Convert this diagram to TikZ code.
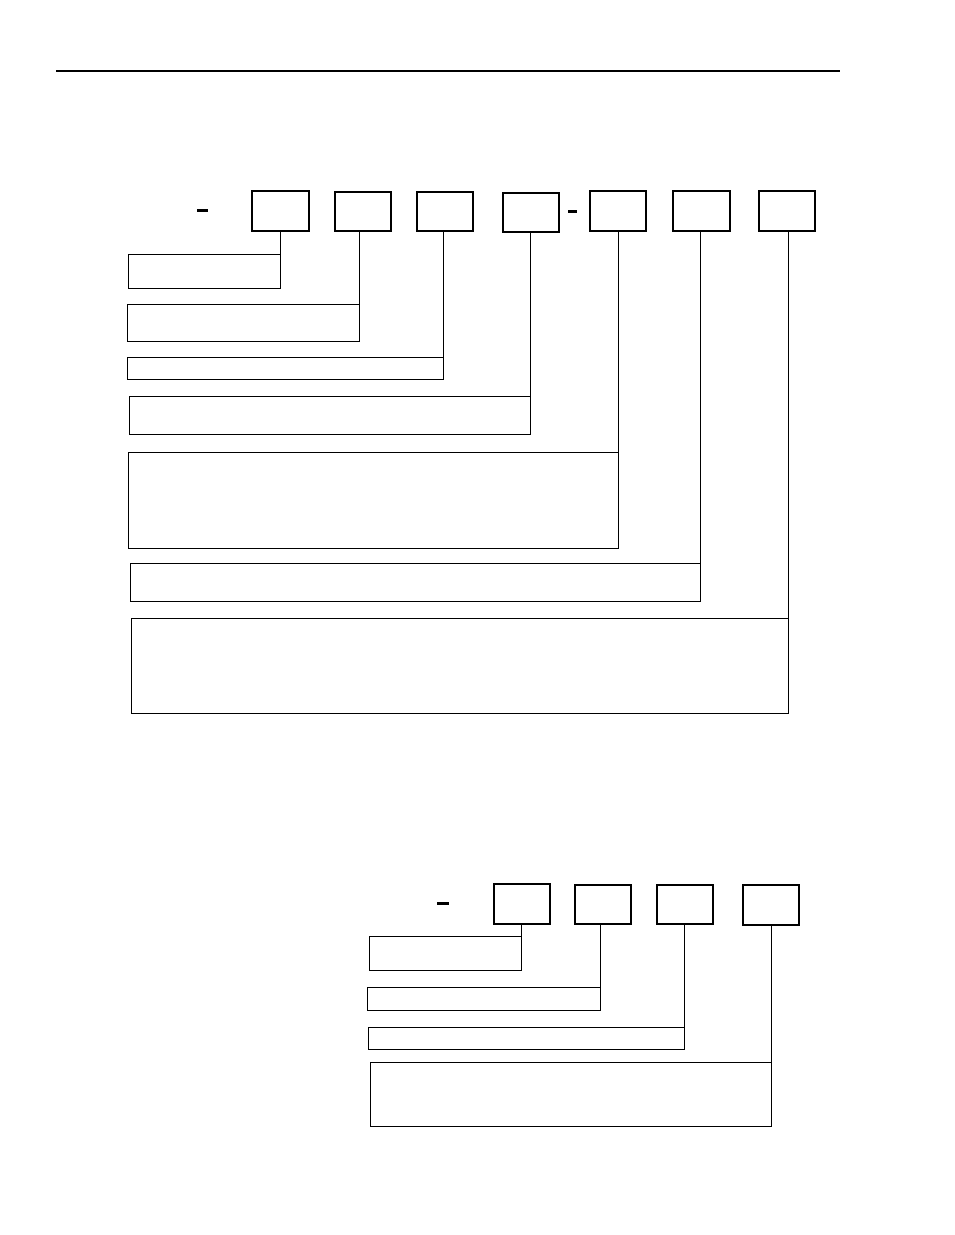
\documentclass[tikz,border=0pt]{standalone}
\usetikzlibrary{fit}
\tikzset{
  codebox/.style={draw=black, line width=1pt, inner sep=0pt, fill=none},
  labelbox/.style={draw=black, line width=0.6pt, inner sep=0pt},
  conn/.style={draw=black, line width=0.6pt},
  dashbar/.style={fill=black, draw=none, inner sep=0pt},
}
\begin{document}
\begin{tikzpicture}[x=0.75pt,y=-0.75pt]
\useasboundingbox (0,0) rectangle (954,1235);
% header rule
\draw[line width=0.8pt] (56,71) -- (840,71);

% ---------- top code ----------
\node[dashbar, fit={(197,209) (208,212)}] (d1) {};
\node[codebox, fit={(252,191) (309,231)}] (b1) {};
\node[codebox, fit={(335,192) (391,231)}] (b2) {};
\node[codebox, fit={(417,192) (473,231)}] (b3) {};
\node[codebox, fit={(503,193) (559,232)}] (b4) {};
\node[dashbar, fit={(568,210) (577,213)}] (d2) {};
\node[codebox, fit={(590,191) (646,231)}] (b5) {};
\node[codebox, fit={(673,191) (730,231)}] (b6) {};
\node[codebox, fit={(759,191) (815,231)}] (b7) {};

\node[labelbox, fit={(128,254) (280,288)}] (l1) {};
\node[labelbox, fit={(127,304) (359,341)}] (l2) {};
\node[labelbox, fit={(127,357) (443,379)}] (l3) {};
\node[labelbox, fit={(129,396) (530,434)}] (l4) {};
\node[labelbox, fit={(128,452) (618,548)}] (l5) {};
\node[labelbox, fit={(130,563) (700,601)}] (l6) {};
\node[labelbox, fit={(131,618) (788,713)}] (l7) {};

\foreach \i in {1,...,7}{
  \draw[conn] (l\i.north east) -- (l\i.north east |- b\i.south);
}

% ---------- bottom code ----------
\node[dashbar, fit={(437,902) (449,905)}] (d3) {};
\node[codebox, fit={(494,884) (550,924)}] (c1) {};
\node[codebox, fit={(575,885) (631,924)}] (c2) {};
\node[codebox, fit={(657,885) (713,924)}] (c3) {};
\node[codebox, fit={(743,885) (799,925)}] (c4) {};

\node[labelbox, fit={(369,936) (521,970)}] (m1) {};
\node[labelbox, fit={(367,987) (600,1010)}] (m2) {};
\node[labelbox, fit={(368,1027) (684,1049)}] (m3) {};
\node[labelbox, fit={(370,1062) (771,1126)}] (m4) {};

\foreach \i in {1,...,4}{
  \draw[conn] (m\i.north east) -- (m\i.north east |- c\i.south);
}
\end{tikzpicture}
\end{document}
